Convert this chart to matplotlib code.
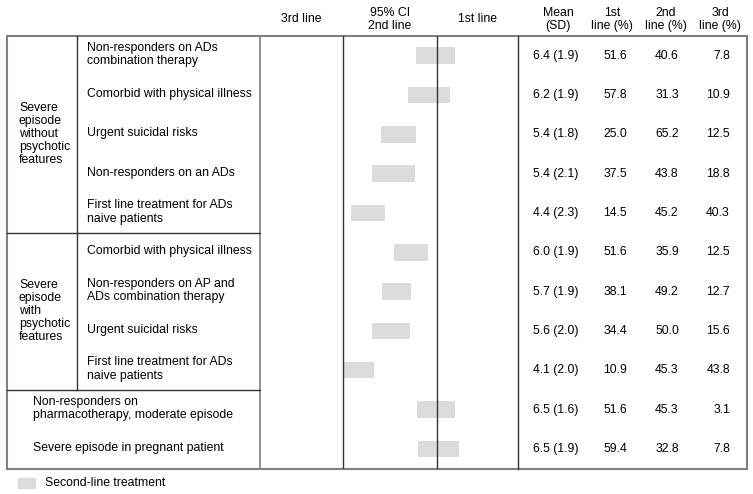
import matplotlib
matplotlib.use("Agg")
import matplotlib.pyplot as plt
from matplotlib.patches import Rectangle

plt.rcParams['font.family'] = ['Liberation Sans', 'DejaVu Sans']

# situations, grouped
groups = [
    "Severe\nepisode\nwithout\npsychotic\nfeatures",
    "Severe\nepisode\nwith\npsychotic\nfeatures",
    "",
]
group_rows = [5, 4, 2]
situations = [
    "Non-responders on ADs\ncombination therapy",
    "Comorbid with physical illness",
    "Urgent suicidal risks",
    "Non-responders on an ADs",
    "First line treatment for ADs\nnaive patients",
    "Comorbid with physical illness",
    "Non-responders on AP and\nADs combination therapy",
    "Urgent suicidal risks",
    "First line treatment for ADs\nnaive patients",
    "Non-responders on\npharmacotherapy, moderate episode",
    "Severe episode in pregnant patient",
]
# 95% CI bars
ci_lo = [5.81, 5.56, 4.71, 4.42, 3.75, 5.11, 4.72, 4.41, 3.52, 5.85, 5.89]
ci_hi = [7.07, 6.92, 5.81, 5.78, 4.83, 6.19, 5.65, 5.63, 4.47, 7.07, 7.20]
mean_sd = ["6.4 (1.9)", "6.2 (1.9)", "5.4 (1.8)", "5.4 (2.1)", "4.4 (2.3)",
           "6.0 (1.9)", "5.7 (1.9)", "5.6 (2.0)", "4.1 (2.0)",
           "6.5 (1.6)", "6.5 (1.9)"]
first = ["51.6", "57.8", "25.0", "37.5", "14.5", "51.6", "38.1", "34.4", "10.9", "51.6", "59.4"]
second = ["40.6", "31.3", "65.2", "43.8", "45.2", "35.9", "49.2", "50.0", "45.3", "45.3", "32.8"]
third = ["7.8", "10.9", "12.5", "18.8", "40.3", "12.5", "12.7", "15.6", "43.8", "3.1", "7.8"]
cut_3rd, cut_1st = 3.5, 6.5

W, H = 753, 494
fig = plt.figure(figsize=(W / 100, H / 100), dpi=100)
ax = fig.add_axes([0, 0, 1, 1])
ax.set_xlim(0, W)
ax.set_ylim(H, 0)
ax.axis("off")

top, bot = 36, 468.5
left, right = 7, 747
x_grp, x_lab, x_p0, x_p1 = 77, 260, 260, 518.5
n = len(situations)
rh = (bot - top) / n
fs = 8.8
grey = "#808080"
dark = "#333333"

# bar panel
bx = fig.add_axes([x_p0 / W, 1 - bot / H, (x_p1 - x_p0) / W, (bot - top) / H])
bx.set_xlim(0.83, 9.10)
bx.set_ylim(n - 0.5, -0.5)
bx.axis("off")
bx.barh(range(n), [h - l for l, h in zip(ci_lo, ci_hi)], left=ci_lo,
        height=0.42, color="#dcdcdc", zorder=1)
bx.axvline(cut_3rd, color=dark, lw=1, zorder=2)
bx.axvline(cut_1st, color=dark, lw=1, zorder=2)

# table frame
ax.add_patch(Rectangle((left, top), right - left, bot - top, fill=False,
                       ec=grey, lw=1.5))
ax.plot([x_lab, x_lab], [top, bot], color=grey, lw=1.2)
ax.plot([x_p1, x_p1], [top, bot], color=dark, lw=1)

# groups
r0 = 0
for g, k in zip(groups, group_rows):
    y0, y1 = top + r0 * rh, top + (r0 + k) * rh
    if g:
        ax.plot([x_grp, x_grp], [y0, y1], color=dark, lw=1)
        ax.text(19, (y0 + y1) / 2, g, fontsize=fs, va="center", ha="left",
                linespacing=1.12)
    if r0 > 0:
        ax.plot([left, x_lab], [y0, y0], color=dark, lw=1)
    for i in range(r0, r0 + k):
        yc = top + (i + 0.5) * rh
        tx = 87 if g else 33
        ax.text(tx, yc - 1, situations[i], fontsize=fs, va="center", ha="left",
                linespacing=1.16)
    r0 += k

# numbers
for i in range(n):
    yc = top + (i + 0.5) * rh
    ax.text(556, yc, mean_sd[i], fontsize=fs, va="center", ha="center")
    ax.text(615, yc, first[i], fontsize=fs, va="center", ha="center")
    ax.text(667, yc, second[i], fontsize=fs, va="center", ha="center")
    ax.text(730, yc, third[i], fontsize=fs, va="center", ha="right")

# header
hy = 19.5
ls = 1.15
ax.text(301, hy, "3rd line", fontsize=fs, ha="center", va="center")
ax.text(390, hy, "95% CI\n2nd line", fontsize=fs, ha="center", va="center",
        linespacing=ls)
ax.text(478, hy, "1st line", fontsize=fs, ha="center", va="center")
ax.text(558, hy, "Mean\n(SD)", fontsize=fs, ha="center", va="center", linespacing=ls)
ax.text(612, hy, "1st\nline (%)", fontsize=fs, ha="center", va="center", linespacing=ls)
ax.text(666, hy, "2nd\nline (%)", fontsize=fs, ha="center", va="center", linespacing=ls)
ax.text(720, hy, "3rd\nline (%)", fontsize=fs, ha="center", va="center", linespacing=ls)

# legend
ax.add_patch(Rectangle((18, 477.5), 17, 10, color="#dcdcdc"))
ax.text(45, 482.5, "Second-line treatment", fontsize=fs, va="center", ha="left")

fig.savefig("out.png", dpi=100)
